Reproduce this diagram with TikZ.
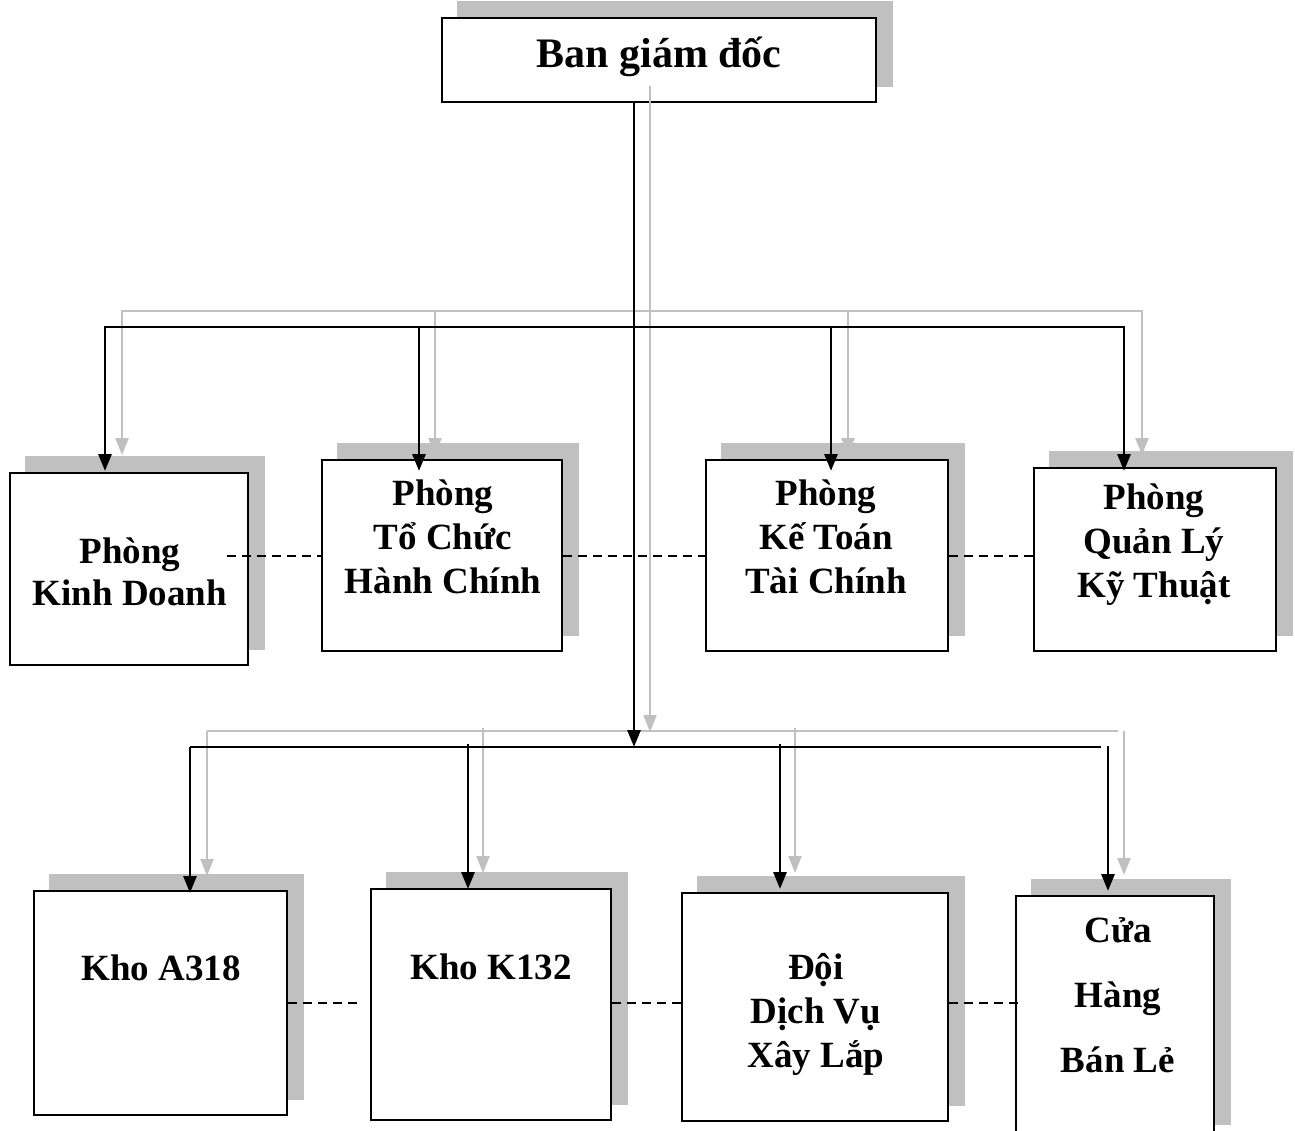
\documentclass[tikz,border=0pt]{standalone}
\usepackage{fontspec}
\setmainfont{Liberation Serif}
\usetikzlibrary{arrows.meta,backgrounds}
\definecolor{shade}{RGB}{192,192,192}
\begin{document}
\begin{tikzpicture}[x=1pt,y=-1pt,
  box/.style={draw=black,line width=2.4pt,fill=white,inner sep=0pt},
  txt/.style={font=\bfseries\fontsize{37}{44}\selectfont,align=center,inner sep=0pt},
  blk/.style={draw=black,line width=2.9pt,-{Triangle[length=17pt,width=13pt]}},
  blkline/.style={draw=black,line width=2.9pt},
  gry/.style={draw=shade,line width=2.4pt,-{Triangle[length=17pt,width=13pt]}},
  gryline/.style={draw=shade,line width=2.4pt},
  dashl/.style={draw=black,line width=2pt,dash pattern=on 9pt off 6pt},
  shadowbox/.style={fill=shade}
]
\useasboundingbox (0,0) rectangle (1295,1131);
% boxes
\node[box,minimum width=434pt,minimum height=84pt] (top) at (659,60) {};
\node[box,minimum width=238pt,minimum height=192pt] (kd) at (129,569) {};
\node[box,minimum width=240pt,minimum height=191pt] (tc) at (442,555.5) {};
\node[box,minimum width=242pt,minimum height=191pt] (kt) at (827,555.5) {};
\node[box,minimum width=242pt,minimum height=183pt] (ql) at (1155,559.5) {};
\node[box,minimum width=253pt,minimum height=224pt] (a318) at (160.5,1003) {};
\node[box,minimum width=240pt,minimum height=231pt] (k132) at (491,1004.5) {};
\node[box,minimum width=266pt,minimum height=228pt] (doi) at (815,1007) {};
\node[box,minimum width=198pt,minimum height=244pt] (ch) at (1115,1018) {};
% shadows
\begin{scope}[on background layer]
\foreach \b in {top,kd,tc,kt,ql,a318,k132,doi,ch}{
  \fill[shadowbox] ([shift={(16pt,16pt)}]\b.south west) rectangle ([shift={(16pt,16pt)}]\b.north east);
}
\end{scope}
% texts
\node[txt,font=\bfseries\fontsize{42}{50}\selectfont] (topT) at (659,57) {Ban giám đốc};
\node[txt,font=\bfseries\fontsize{37}{42}\selectfont] (kdT) at (130,572) {Phòng\\Kinh Doanh};
\node[txt] (tcT) at (443,537) {Phòng\\Tổ Chức\\Hành Chính};
\node[txt] (ktT) at (826,537) {Phòng\\Kế Toán\\Tài Chính};
\node[txt] (qlT) at (1154,545) {Phòng\\Quản Lý\\Kỹ Thuật};
\node[txt] (a318T) at (161,968) {Kho A318};
\node[txt] (k132T) at (491,967) {Kho K132};
\node[txt] (doiT) at (816,1014) {Đội\\Dịch Vụ\\Xây Lắp};
\node[txt,font=\bfseries\fontsize{37}{65}\selectfont] (chT) at (1118,995) {Cửa\\Hàng\\Bán Lẻ};
% coordinates
\coordinate (gtop) at (650,86);
\coordinate (gm) at (650,732);
\coordinate (bus1) at (634,327);
\coordinate (gbus1) at (650,311);
\coordinate (kdB) at (105,471);
\coordinate (tcB) at (419,471);
\coordinate (ktB) at (831,471);
\coordinate (qlB) at (1124,471);
\coordinate (kdG) at (122,455);
\coordinate (tcG) at (435,455);
\coordinate (ktG) at (848,455);
\coordinate (qlG) at (1142,455);
\coordinate (m1) at (634,747);
\coordinate (bus2L) at (190,747);
\coordinate (bus2R) at (1101,747);
\coordinate (gbus2L) at (207,731);
\coordinate (gbus2R) at (1118,731);
\coordinate (aB) at (190,893);
\coordinate (kB0) at (468,744);
\coordinate (kB) at (468,889);
\coordinate (dB0) at (780,744);
\coordinate (dB) at (780,889);
\coordinate (cB0) at (1108,746);
\coordinate (cB) at (1108,891);
\coordinate (aG) at (207,876);
\coordinate (kG0) at (483,728);
\coordinate (kG) at (483,873);
\coordinate (dG0) at (795,728);
\coordinate (dG) at (795,873);
\coordinate (cG0) at (1124,731);
\coordinate (cG) at (1124,875);
\coordinate (aD) at (359,1003);
% gray connectors
\draw[gry] (gtop) -- (gm);
\draw[gry] (gbus1) -| (kdG);
\draw[gry] (gbus1) -| (qlG);
\draw[gry] (tcG |- gbus1) -- (tcG);
\draw[gry] (ktG |- gbus1) -- (ktG);
\draw[gryline] (gbus2L) -- (gbus2R);
\draw[gry] (gbus2L) -- (aG);
\draw[gry] (kG0) -- (kG);
\draw[gry] (dG0) -- (dG);
\draw[gry] (cG0) -- (cG);
% black connectors
\draw[blk] (top.south -| m1) -- (m1);
\draw[blk] (bus1) -| (kdB);
\draw[blk] (bus1) -| (qlB);
\draw[blk] (tcB |- bus1) -- (tcB);
\draw[blk] (ktB |- bus1) -- (ktB);
\draw[blkline] (bus2L) -- (bus2R);
\draw[blk] (bus2L) -- (aB);
\draw[blk] (kB0) -- (kB);
\draw[blk] (dB0) -- (dB);
\draw[blk] (cB0) -- (cB);
% dashed links
\draw[dashl] ([xshift=-22pt]kd.east |- tc.west) -- (tc.west);
\draw[dashl] (tc.east) -- (kt.west);
\draw[dashl] (kt.east) -- (ql.west |- kt.east);
\draw[dashl] (a318.east) -- (aD);
\draw[dashl] (k132.east |- a318.east) -- (doi.west |- a318.east);
\draw[dashl] (doi.east |- a318.east) -- ([xshift=9pt]ch.west |- a318.east);
\end{tikzpicture}
\end{document}
